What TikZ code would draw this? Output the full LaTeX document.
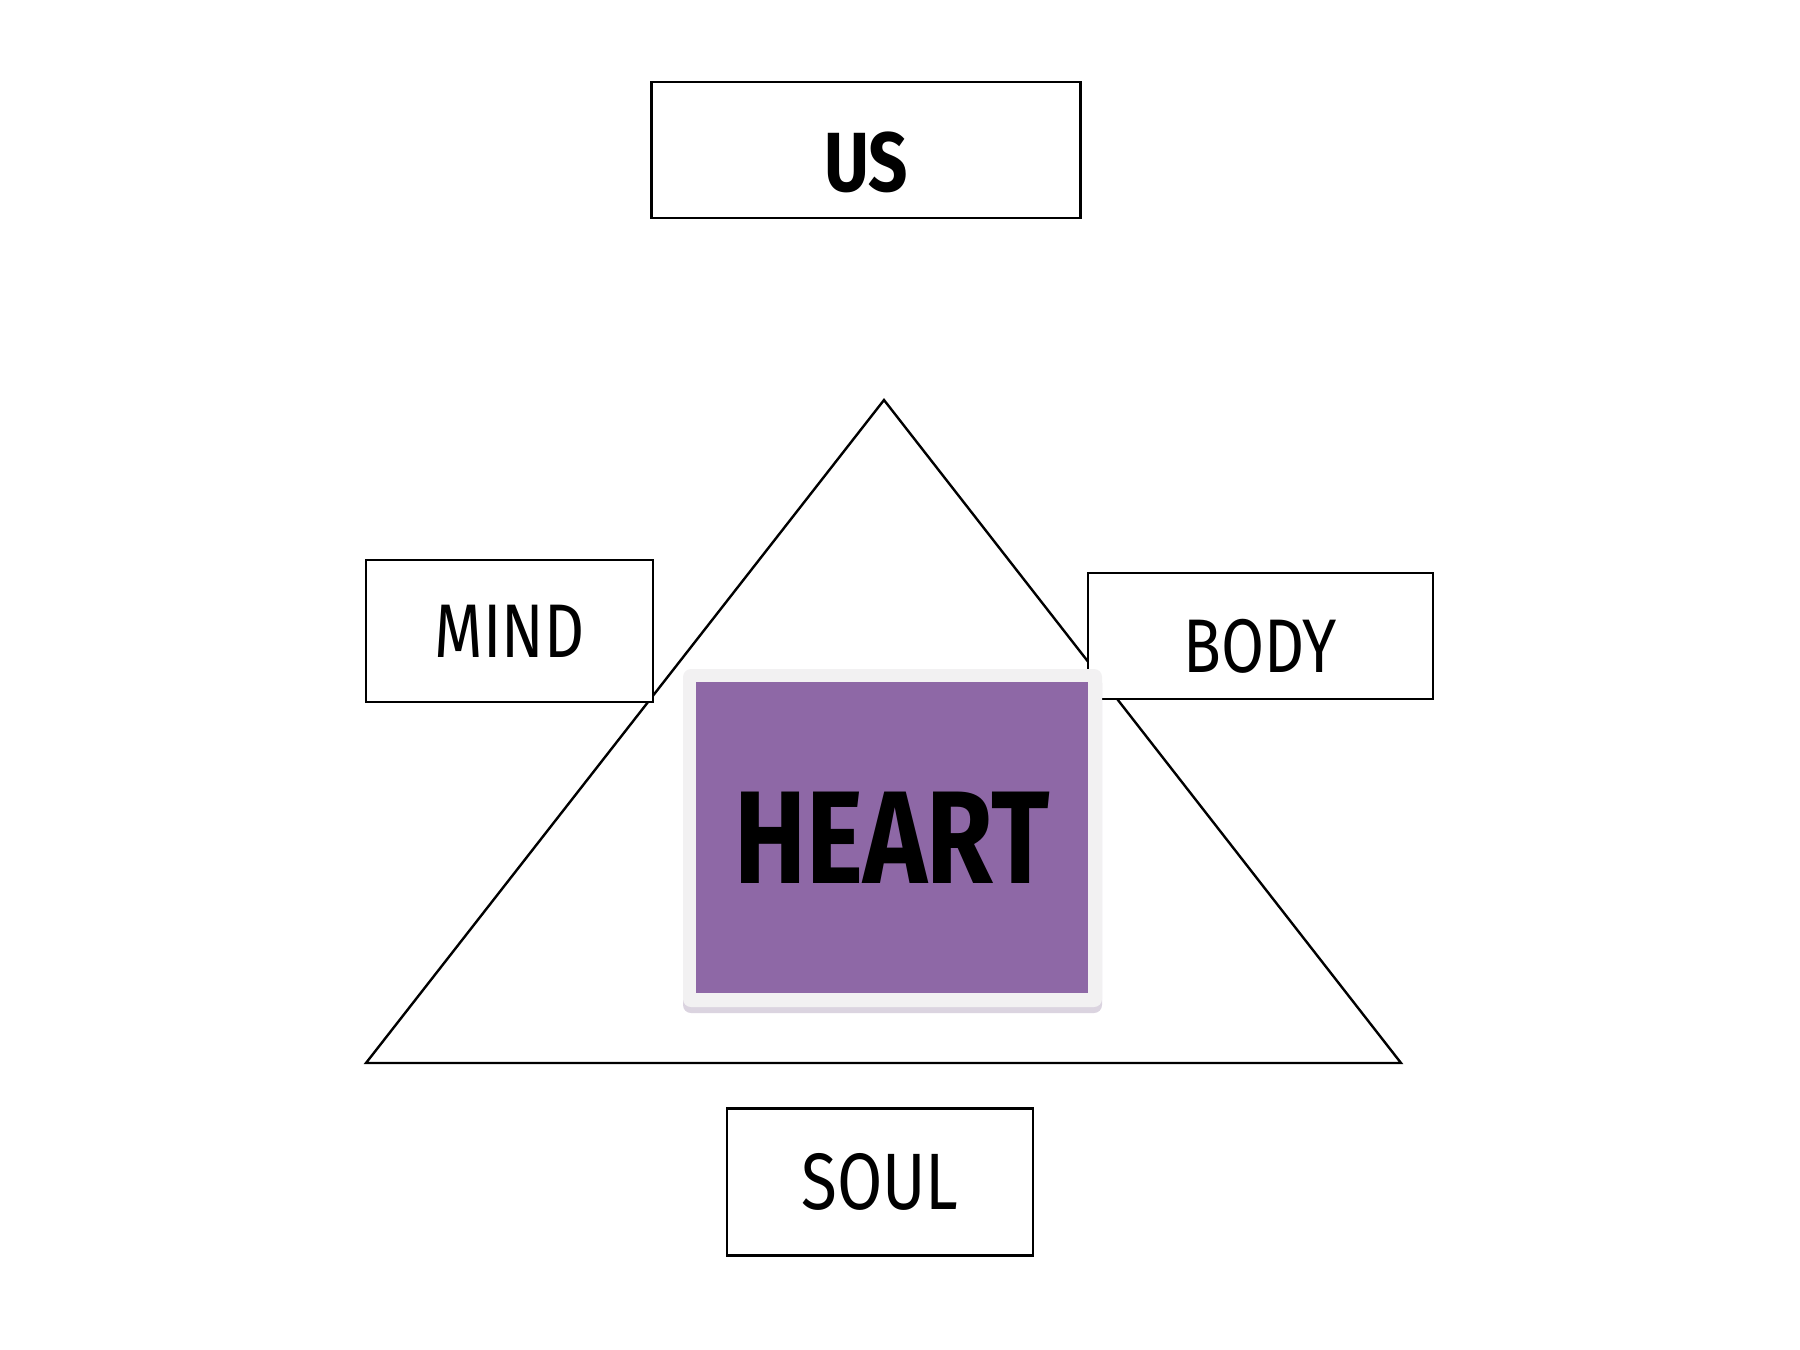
\documentclass[tikz,border=0pt]{standalone}
\usepackage{fontspec}
\setmainfont{Fira Sans}
\newfontfamily\handfont[FakeStretch=0.82]{Fira Sans}
\usepackage{tikz}
\usetikzlibrary{shadows}
\definecolor{heartfill}{RGB}{142, 104, 166}
\definecolor{heartframe}{RGB}{242, 241, 242}

\tikzset{
	wordbox/.style={draw=black, line width=0.6pt, fill=white, inner sep=0pt},
}

\begin{document}
\begin{tikzpicture}[x=0.25pt, y=-0.25pt]
		\useasboundingbox (0,0) rectangle (1800,1350);

		% triangle
		\coordinate (top) at (884,400);
		\coordinate (left) at (366,1063);
		\coordinate (right) at (1401,1063);
		\draw[line width=0.6pt, line join=miter] (top) -- (left) -- (right) -- cycle;

		% labels round the triangle
		\node[wordbox, minimum width=107.25pt, minimum height=34.1pt] (us) at (866,150) {};
		\node[font=\handfont\fontsize{21}{24}\selectfont\bfseries] (ustext) at (866,162) {US};
		\node[wordbox, minimum width=71.75pt, minimum height=35.5pt, font=\handfont\fontsize{19}{22}\selectfont] (mind) at (509.5,631) {MIND};
		\node[wordbox, minimum width=86.25pt, minimum height=31.5pt] (body) at (1260.5,636) {};
		\node[font=\handfont\fontsize{19}{22}\selectfont] (bodytext) at (1260.5,646) {BODY};
		\node[wordbox, minimum width=76.5pt, minimum height=36.75pt, font=\handfont\fontsize{20}{23}\selectfont] (soul) at (880,1182) {SOUL};

		% heart card
		\node[fill=heartframe, rounded corners=2pt, minimum width=104.75pt, minimum height=84.5pt,
			drop shadow={opacity=0.3, shadow xshift=0pt, shadow yshift=-1.5pt, fill=heartfill!60!gray}] (card) at (892.5,838) {};
		\node[fill=heartfill, minimum width=98pt, minimum height=77.75pt, inner sep=0pt,
			font=\handfont\fontsize{33}{36}\selectfont\bfseries] (heart) at (892,837.5) {HEART};
	\end{tikzpicture}
\end{document}
